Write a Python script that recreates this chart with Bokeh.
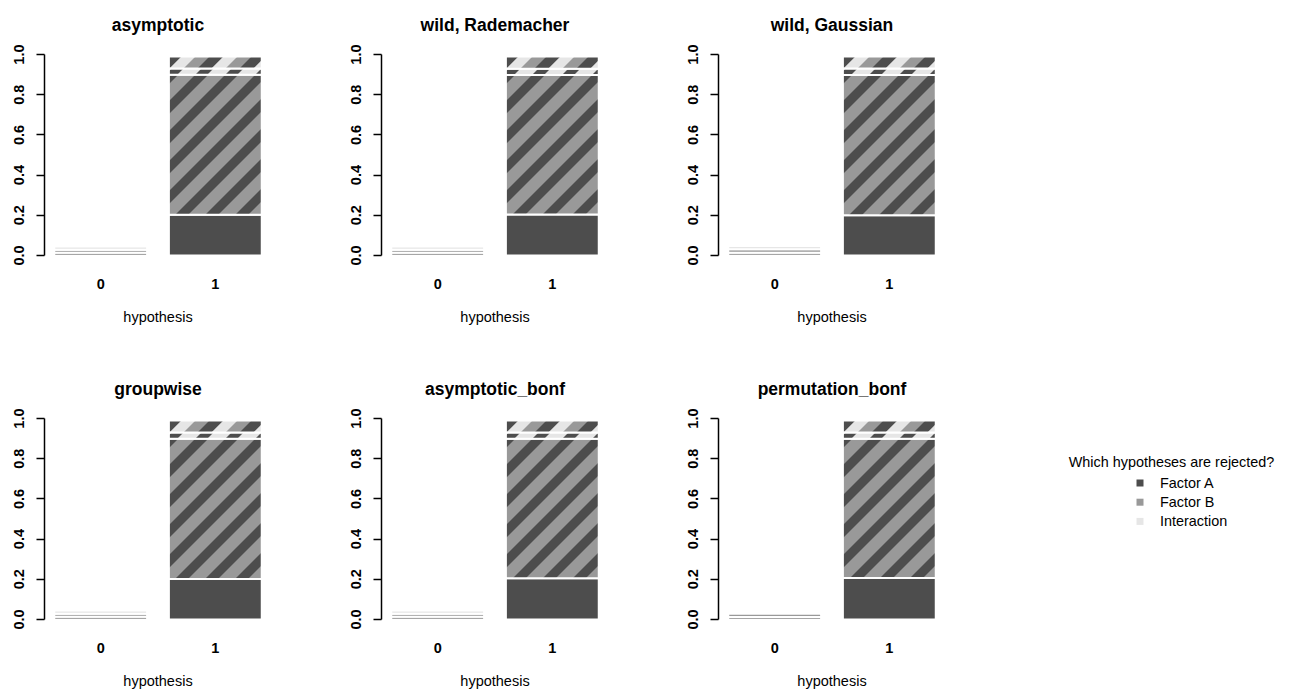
import base64
import math

from bokeh.core.properties import value
from bokeh.embed import file_html
from bokeh.layouts import column, row
from bokeh.models import ColumnDataSource, FixedTicker, ImageURLTexture, Range1d
from bokeh.plotting import figure
from bokeh.resources import INLINE

# ---------------------------------------------------------------- data
methods = ["asymptotic", "wild, Rademacher", "wild, Gaussian",
           "groupwise", "asymptotic_bonf", "permutation_bonf"]
hypotheses = [0, 1]
hypothesis_labels = ["0", "1"]
y_ticks = [0.0, 0.2, 0.4, 0.6, 0.8, 1.0]

# share of runs, split by which hypotheses were rejected together
# hypothesis 0 (no effect)
h0_factor_a = [0.013, 0.013, 0.014, 0.013, 0.013, 0.012]
h0_factor_b = [0.016, 0.016, 0.017, 0.016, 0.016, 0.016]
h0_interaction = [0.016, 0.016, 0.016, 0.016, 0.015, 0.000]
# hypothesis 1 (effect present)
h1_factor_a = [0.203, 0.204, 0.200, 0.202, 0.205, 0.206]
h1_a_and_b = [0.696, 0.694, 0.698, 0.697, 0.695, 0.694]
h1_a_and_i = [0.031, 0.031, 0.032, 0.031, 0.030, 0.030]
h1_all = [0.060, 0.061, 0.060, 0.060, 0.060, 0.060]

legend_title = "Which hypotheses are rejected?"
legend_labels = ["Factor A", "Factor B", "Interaction"]

# ---------------------------------------------------------------- style
DARK, MID, LIGHT = "#4D4D4D", "#999999", "#E6E6E6"
legend_colors = [DARK, MID, LIGHT]
FONT = "Liberation Sans"
BAR_WIDTH = 0.81
BORDER = 2.0


def stripe_texture(period, base, bands):
    """Square tile with '/' stripes; bands = [(color, offset, width)]."""
    parts = [f'<svg xmlns="http://www.w3.org/2000/svg" width="{period}" '
             f'height="{period}" viewBox="0 0 {period} {period}">',
             f'<rect width="{period}" height="{period}" fill="{base}"/>']
    for color, offset, width in bands:
        sw = width / math.sqrt(2)
        for k in range(-1, 3):
            c = offset + width / 2 + k * period
            parts.append(f'<line x1="{c + period}" y1="{-period}" x2="{-period}" '
                         f'y2="{c + period}" stroke="{color}" stroke-width="{sw:.3f}"/>')
    parts.append("</svg>")
    svg = "".join(parts)
    url = "data:image/svg+xml;base64," + base64.b64encode(svg.encode()).decode()
    return ImageURLTexture(url=url, repetition="repeat")


def textures():
    return {
        "ab": stripe_texture(30, MID, [(DARK, 0, 13)]),
        "ai": stripe_texture(30, LIGHT, [(DARK, 0, 12)]),
        "abi": stripe_texture(42, MID, [(DARK, 14, 14), (LIGHT, 28, 14)]),
    }


def panel(i):
    bottom_row = i >= 3
    p = figure(frame_width=227, frame_height=217,
               min_border_left=44, min_border_right=66, min_border_top=46,
               min_border_bottom=68 if bottom_row else 101,
               x_range=Range1d(-0.49, 1.49), y_range=Range1d(-0.04, 1.04),
               toolbar_location=None, output_backend="svg", tools="")
    p.title.text = methods[i]
    p.title.align = "center"
    p.title.text_font = FONT
    p.title.text_font_size = "17.5px"
    p.title.text_font_style = "bold"
    p.title.text_color = "black"
    p.title.standoff = 23

    solid = {"x": [], "bottom": [], "top": [], "color": []}
    striped = {"x": [], "bottom": [], "top": [], "pattern": []}

    stacks = {
        0: [("solid", DARK, h0_factor_a[i]), ("solid", MID, h0_factor_b[i]),
            ("solid", LIGHT, h0_interaction[i])],
        1: [("solid", DARK, h1_factor_a[i]), ("ab", None, h1_a_and_b[i]),
            ("ai", None, h1_a_and_i[i]), ("abi", None, h1_all[i])],
    }
    for h in hypotheses:
        base = 0.0
        for kind, color, v in stacks[h]:
            if v > 0:
                if kind == "solid":
                    solid["x"].append(h); solid["bottom"].append(base)
                    solid["top"].append(base + v); solid["color"].append(color)
                else:
                    striped["x"].append(h); striped["bottom"].append(base)
                    striped["top"].append(base + v); striped["pattern"].append(kind)
            base += v

    p.vbar(x="x", bottom="bottom", top="top", width=BAR_WIDTH,
           fill_color="color", line_color="white", line_width=BORDER,
           source=ColumnDataSource(solid))
    p.vbar(x="x", bottom="bottom", top="top", width=BAR_WIDTH,
           fill_color=MID, hatch_pattern="pattern", hatch_extra=textures(),
           line_color="white", line_width=BORDER,
           source=ColumnDataSource(striped))

    p.grid.visible = False
    p.outline_line_color = None

    ya = p.yaxis[0]
    ya.ticker = FixedTicker(ticks=y_ticks)
    ya.major_label_overrides = {t: f"{t:.1f}" for t in y_ticks}
    ya.bounds = (0, 1)
    ya.major_tick_out = 8
    ya.major_tick_in = 0
    ya.minor_tick_out = 0
    ya.minor_tick_in = 0
    ya.axis_line_width = 1.5
    ya.major_tick_line_width = 1.5
    ya.major_label_orientation = "vertical"
    ya.major_label_standoff = 12
    ya.major_label_text_font = FONT
    ya.major_label_text_font_style = "bold"
    ya.major_label_text_font_size = "14.5px"
    ya.major_label_text_color = "black"

    xa = p.xaxis[0]
    xa.ticker = FixedTicker(ticks=hypotheses)
    xa.major_label_overrides = dict(zip(hypotheses, hypothesis_labels))
    xa.axis_line_color = None
    xa.major_tick_line_color = None
    xa.minor_tick_line_color = None
    xa.major_label_standoff = 9
    xa.major_label_text_font = FONT
    xa.major_label_text_font_style = "bold"
    xa.major_label_text_font_size = "14.5px"
    xa.major_label_text_color = "black"
    xa.axis_label = "hypothesis"
    xa.axis_label_text_font = FONT
    xa.axis_label_text_font_style = "normal"
    xa.axis_label_text_font_size = "14.5px"
    xa.axis_label_text_color = "black"
    xa.axis_label_standoff = 17
    return p


panels = [panel(i) for i in range(len(methods))]

# legend column
leg = figure(frame_width=286, frame_height=695, min_border=0,
             x_range=Range1d(0, 286), y_range=Range1d(695, 0),
             toolbar_location=None, output_backend="svg", tools="")
leg.axis.visible = False
leg.grid.visible = False
leg.outline_line_color = None
leg.text(x=[160], y=[461], text=[legend_title], text_align="center",
         text_baseline="middle", text_font=value(FONT), text_font_size="14.4px",
         text_color="black")
item_y = [482.5 + 19.2 * k for k in range(len(legend_labels))]
leg.scatter(x=[128.5] * len(legend_labels), y=item_y, marker="square", size=7,
            fill_color=legend_colors, line_color=None)
leg.text(x=[148.5] * len(legend_labels), y=item_y, text=legend_labels,
         text_align="left", text_baseline="middle", text_font=value(FONT),
         text_font_size="14.4px", text_color="black")

layout = row(column(row(*panels[:3]), row(*panels[3:])), leg)

open("out.html", "w").write(file_html(layout, INLINE))
